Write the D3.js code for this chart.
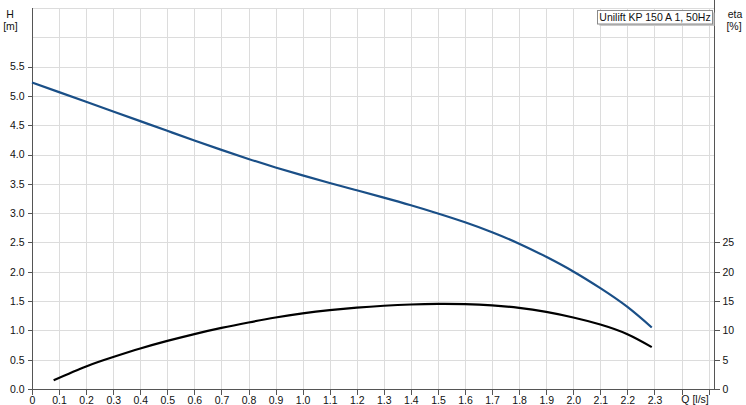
<!DOCTYPE html>
<html><head><meta charset="utf-8">
<script src="https://cdn.jsdelivr.net/npm/d3@7"></script>
<style>
html,body{margin:0;padding:0;background:#fff;}
svg{display:block;font-family:"Liberation Sans",Arial,sans-serif;}
</style></head>
<body><svg id="c" width="746" height="405"></svg>
<script>
// ---- data ----
const qTicks = [0,0.1,0.2,0.3,0.4,0.5,0.6,0.7,0.8,0.9,1.0,1.1,1.2,1.3,1.4,1.5,1.6,1.7,1.8,1.9,2.0,2.1,2.2,2.3];
const qGrid = [0.1,0.2,0.3,0.4,0.5,0.6,0.7,0.8,0.9,1.0,1.1,1.2,1.3,1.4,1.5,1.6,1.7,1.8,1.9,2.0,2.1,2.2,2.3,2.4,2.5];
const hTicks = [0,0.5,1.0,1.5,2.0,2.5,3.0,3.5,4.0,4.5,5.0,5.5];
const hGrid = [0.5,1.0,1.5,2.0,2.5,3.0,3.5,4.0,4.5,5.0,5.5,6.0,6.5];
const etaTicks = [0,5,10,15,20,25];

const headQ = [0,0.1,0.2,0.3,0.4,0.5,0.6,0.7,0.8,0.9,1.0,1.1,1.2,1.3,1.4,1.5,1.6,1.7,1.8,1.9,2.0,2.1,2.2,2.29];
const headH = [5.23,5.065,4.90,4.735,4.57,4.405,4.24,4.08,3.925,3.78,3.645,3.515,3.39,3.265,3.135,2.995,2.845,2.675,2.48,2.255,2.005,1.72,1.40,1.05];

const etaQ = [0.08,0.2,0.3,0.4,0.5,0.6,0.7,0.8,0.9,1.0,1.1,1.2,1.3,1.4,1.5,1.6,1.7,1.8,1.9,2.0,2.1,2.2,2.29];
const etaV = [1.5,3.85,5.45,6.9,8.2,9.37,10.42,11.35,12.2,12.9,13.45,13.88,14.2,14.42,14.52,14.48,14.28,13.85,13.15,12.2,11.0,9.35,7.15];

const title = "Unilift KP 150 A 1, 50Hz";

// ---- layout ----
const svg = d3.select("#c");
const L = 32, R = 714, T = 8, B = 389;
const x = d3.scaleLinear().domain([0, 2.52]).range([L, R]);
const y = d3.scaleLinear().domain([0, 6.5]).range([B, T]);
const yE = d3.scaleLinear().domain([0, 65]).range([B, T]);
const fs = "10.5px";
const axisCol = "#555";
const gridCol = "#dcdcdc";
const px = v => Math.round(v) + 0.5;

// grid
const g = svg.append("g").attr("shape-rendering","crispEdges");
g.selectAll(".vg").data(qGrid).join("line")
  .attr("x1", d=>px(x(d))).attr("x2", d=>px(x(d))).attr("y1", T).attr("y2", B)
  .attr("stroke", gridCol).attr("stroke-width", 1.5);
g.selectAll(".hg").data(hGrid).join("line")
  .attr("y1", d=>px(y(d))).attr("y2", d=>px(y(d))).attr("x1", L).attr("x2", R)
  .attr("stroke", gridCol).attr("stroke-width", 1.5);

// axes
const fmtQ = d => d === 0 ? "0" : d.toFixed(1);
const xAxis = d3.axisBottom(x).tickValues(qGrid.concat([0])).tickSize(5).tickPadding(2)
  .tickFormat(d => qTicks.some(t => Math.abs(t-d)<1e-9) ? fmtQ(d) : "");
const ax = svg.append("g").attr("transform", `translate(0,${px(B)})`).call(xAxis);
const yAxis = d3.axisLeft(y).tickValues(hTicks).tickSize(5).tickPadding(3).tickFormat(d=>d.toFixed(1));
const ay = svg.append("g").attr("transform", `translate(${px(L)},0)`).call(yAxis);
const eAxis = d3.axisRight(yE).tickValues(etaTicks).tickSize(5).tickPadding(3).tickFormat(d3.format("d"));
const ae = svg.append("g").attr("transform", `translate(${px(R)},0)`).call(eAxis);
[ax, ay, ae].forEach(a => {
  a.select(".domain").remove();
  a.selectAll(".tick line").attr("stroke", axisCol).attr("shape-rendering","crispEdges");
  a.selectAll(".tick text").attr("fill", "#111").style("font-size", fs).style("font-family", '"Liberation Sans",Arial,sans-serif');
});
// axis lines
const al = svg.append("g").attr("shape-rendering","crispEdges").attr("stroke", axisCol).attr("stroke-width", 1.5);
al.append("line").attr("x1", px(L)).attr("x2", px(L)).attr("y1", T).attr("y2", B+1);
al.append("line").attr("x1", px(R)).attr("x2", px(R)).attr("y1", 0).attr("y2", B+1);
al.append("line").attr("x1", L).attr("x2", R+1).attr("y1", px(B)).attr("y2", px(B));

// curves
const lineH = d3.line().x(d=>x(d[0])).y(d=>y(d[1])).curve(d3.curveNatural);
svg.append("path").datum(headQ.map((q,i)=>[q, headH[i]]))
  .attr("d", lineH).attr("fill","none").attr("stroke","#1a4f87").attr("stroke-width",2.2);
const lineE = d3.line().x(d=>x(d[0])).y(d=>yE(d[1])).curve(d3.curveNatural);
svg.append("path").datum(etaQ.map((q,i)=>[q, etaV[i]]))
  .attr("d", lineE).attr("fill","none").attr("stroke","#000").attr("stroke-width",2.2);

// axis titles
const txt = (tx, ty, s, anchor) => svg.append("text").attr("x", tx).attr("y", ty).attr("text-anchor", anchor||"middle")
  .attr("fill","#111").style("font-size", fs).text(s);
txt(10, 18, "H");
txt(10.5, 29.5, "[m]");
txt(735, 18, "eta");
txt(734, 29.5, "[%]");
txt((x(2.4)+x(2.5))/2, 403, "Q [l/s]");

// legend box
const bx = 597.5, by = 10.5, bw = 115, bh = 13.5;
svg.append("rect").attr("x", bx+2).attr("y", by+2).attr("width", bw).attr("height", bh).attr("fill", "#c8c8c8");
svg.append("rect").attr("x", bx).attr("y", by).attr("width", bw).attr("height", bh)
  .attr("fill", "#fff").attr("stroke", "#8a8a8a").attr("stroke-width", 1);
svg.append("text").attr("x", bx + bw/2).attr("y", by + 10.3).attr("text-anchor","middle")
  .attr("fill","#111").style("font-size", fs).text(title);
</script></body></html>
